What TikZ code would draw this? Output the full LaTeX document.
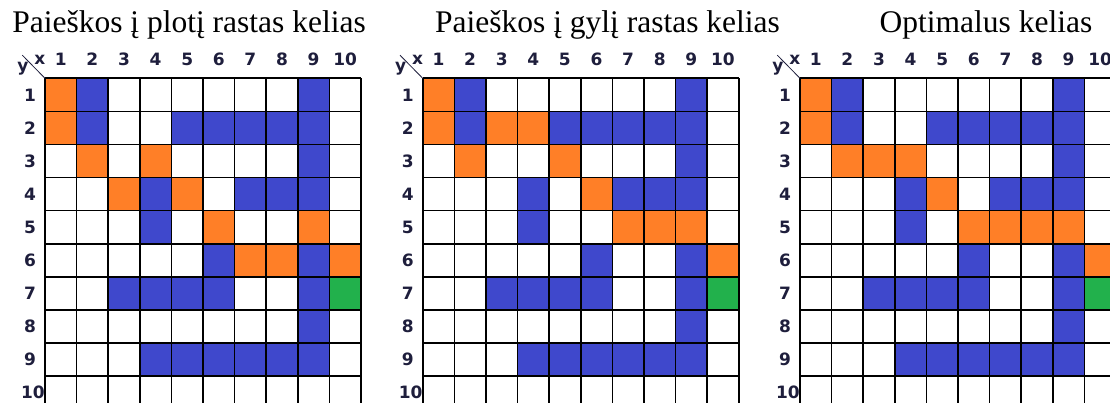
\documentclass[tikz,border=0pt]{standalone}
\usepackage{fontspec}
\setmainfont{Liberation Serif}
\newfontfamily\lblfont{DejaVu Sans}
\usepackage{tikz}
\definecolor{pth}{RGB}{255,127,39}
\definecolor{wl}{RGB}{63,72,204}
\definecolor{gl}{RGB}{34,177,76}
\definecolor{lb}{RGB}{30,30,60}
\newcommand{\walls}{2/1,9/1,2/2,5/2,6/2,7/2,8/2,9/2,9/3,4/4,7/4,8/4,9/4,4/5,
  6/6,9/6,3/7,4/7,5/7,6/7,9/7,9/8,4/9,5/9,6/9,7/9,8/9,9/9}
\newcommand{\maze}[3]{%
  \begin{scope}[shift={(#1,78.3)},x=31.6pt,y=-33.1pt]
    \foreach \c/\r in \walls {\fill[wl] (\c-1,\r-1) rectangle (\c,\r);}
    \foreach \c/\r in {#3} {\fill[pth] (\c-1,\r-1) rectangle (\c,\r);}
    \fill[gl] (9,6) rectangle (10,7);
    \foreach \i in {0,...,10} {
      \draw[gridln] (\i,0) -- (\i,10);
      \draw[gridln] (0,\i) -- (10,\i);}
    \foreach \i in {1,...,10} \node[lbl] (#2-x\i) at (\i-0.5,-0.58) {\i};
    \foreach \i in {1,...,9} \node[lbl] (#2-y\i) at (-0.47,\i-0.5) {\i};
    \node[lbl,anchor=east,inner sep=0pt] (#2-y10) at (0,9.5) {10};
    \draw[lb,line width=0.8pt] (-0.72,-0.7) -- (0,0);
    \node[lbl] (#2-x) at (-0.16,-0.55) {x};
    \node[lbl] (#2-y) at (-0.7,-0.28) {y};
  \end{scope}}

\begin{document}
\begin{tikzpicture}[x=1pt,y=-1pt,
  gridln/.style={line width=1.6pt,black},
  lbl/.style={font=\lblfont\bfseries\fontsize{17}{20}\selectfont,text=lb,inner sep=1pt},
  ttl/.style={font=\fontsize{31.5}{36}\selectfont,anchor=base,inner sep=0pt}]
  \useasboundingbox (0,0) rectangle (1110,403);
  \clip (0,0) rectangle (1110,403);
  \node[ttl] (bfs) at (189,33) {Paieškos į plotį rastas kelias};
  \node[ttl] (dfs) at (607.5,33) {Paieškos į gylį rastas kelias};
  \node[ttl] (opt) at (986,33) {Optimalus kelias};
  % breadth first
  \maze{45}{g1}{1/1,1/2,2/3,4/3,3/4,5/4,6/5,9/5,7/6,8/6,10/6}
  % depth first
  \maze{422.7}{g2}{1/1,1/2,3/2,4/2,2/3,5/3,6/4,7/5,8/5,9/5,10/6}
  % optimal
  \maze{800}{g3}{1/1,1/2,2/3,3/3,4/3,5/4,6/5,7/5,8/5,9/5,10/6}
\end{tikzpicture}
\end{document}
